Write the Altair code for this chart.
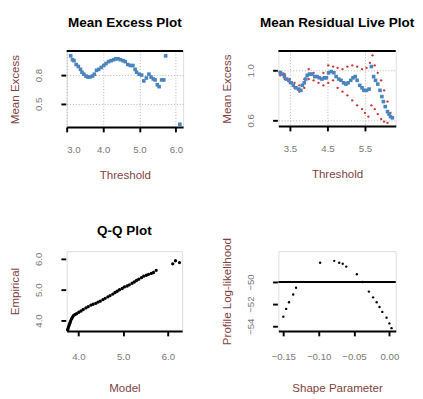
import altair as alt
import pandas as pd

FONT = "Liberation Sans"

# ---- Panel 1: Mean Excess Plot ----
me_thr = [3.11, 3.16, 3.20, 3.26, 3.32, 3.38, 3.42, 3.47, 3.53, 3.58,
          3.64, 3.71, 3.76, 3.82, 3.88, 3.95, 4.02, 4.08, 4.15, 4.22,
          4.29, 4.35, 4.41, 4.48, 4.55, 4.61, 4.68, 4.75, 4.82, 4.88,
          4.92, 4.99, 5.06, 5.12, 5.19, 5.26, 5.32, 5.38, 5.43, 5.49,
          5.54, 5.61, 5.67, 5.72, 6.11]
me_val = [1.00, 0.96, 0.95, 0.91, 0.89, 0.86, 0.83, 0.81, 0.79, 0.78,
          0.78, 0.79, 0.81, 0.85, 0.86, 0.88, 0.90, 0.92, 0.94, 0.95,
          0.96, 0.97, 0.97, 0.96, 0.95, 0.94, 0.91, 0.90, 0.90, 0.86,
          0.83, 0.81, 0.80, 0.74, 0.77, 0.81, 0.78, 0.76, 0.75, 0.70,
          0.68, 0.75, 0.75, 1.00, 0.29]
me_xticks = [3.0, 4.0, 5.0, 6.0]
me_yticks = [0.5, 0.6, 0.7, 0.8]
me_xdom = [3.0, 6.2]
me_ydom = [0.26, 1.05]

# ---- Panel 2: Mean Residual Live Plot ----
mrl_thr = [3.24, 3.30, 3.35, 3.41, 3.47, 3.53, 3.59, 3.66, 3.73, 3.79,
           3.83, 3.88, 3.92, 3.96, 4.02, 4.09, 4.16, 4.22, 4.28, 4.35,
           4.42, 4.47, 4.53, 4.60, 4.67, 4.73, 4.80, 4.86, 4.93, 4.99,
           5.05, 5.12, 5.18, 5.24, 5.29, 5.36, 5.42, 5.47, 5.54, 5.61,
           5.67, 5.73, 5.78, 5.84, 5.90, 5.95, 5.99, 6.04, 6.10, 6.14,
           6.18, 6.23]
mrl_val = [0.98, 0.97, 0.95, 0.93, 0.92, 0.90, 0.88, 0.86, 0.85, 0.84,
           0.88, 0.90, 0.93, 0.96, 0.97, 0.97, 0.95, 0.95, 0.94, 0.93,
           0.94, 0.94, 0.98, 0.99, 0.98, 0.95, 0.93, 0.92, 0.90, 0.89,
           0.90, 0.92, 0.94, 0.95, 0.92, 0.88, 0.86, 0.84, 0.84, 0.85,
           1.03, 0.95, 0.92, 0.89, 0.84, 0.79, 0.75, 0.71, 0.67, 0.65,
           0.63, 0.62]
mrl_up_thr = [3.24, 3.36, 3.49, 3.62, 3.75, 3.88, 4.00, 4.13, 4.26, 4.39,
              4.52, 4.65, 4.77, 4.90, 5.03, 5.16, 5.29, 5.42, 5.54, 5.63,
              5.70, 5.76, 5.84, 5.93, 6.01, 6.10, 6.18]
mrl_upper = [0.99, 0.97, 0.93, 0.90, 0.88, 0.93, 1.01, 0.98, 0.95, 0.98,
             1.04, 1.03, 1.02, 1.01, 1.03, 1.04, 1.03, 1.01, 1.02, 1.06,
             1.12, 1.04, 0.98, 0.92, 0.84, 0.75, 0.66]
mrl_lo_thr = [3.24, 3.36, 3.49, 3.62, 3.75, 3.88, 4.00, 4.13, 4.26, 4.39,
              4.52, 4.65, 4.77, 4.90, 5.03, 5.16, 5.29, 5.42, 5.50, 5.59,
              5.67, 5.76, 5.84, 5.93, 6.01, 6.10]
mrl_lower = [0.96, 0.93, 0.90, 0.86, 0.83, 0.86, 0.93, 0.92, 0.90, 0.88,
             0.90, 0.92, 0.86, 0.83, 0.80, 0.76, 0.72, 0.69, 0.66, 0.63,
             0.72, 0.69, 0.65, 0.61, 0.59, 0.58]
mrl_xticks = [3.5, 4.5, 5.5]
mrl_yticks = [0.6, 0.8, 1.0]
mrl_xdom = [3.19, 6.32]
mrl_ydom = [0.554, 1.154]

# ---- Panel 3: Q-Q Plot ----
qq_model = [3.76, 3.77, 3.78, 3.79, 3.80, 3.81, 3.82, 3.83, 3.85, 3.87,
            3.89, 3.92, 3.96, 4.01, 4.06, 4.11, 4.17, 4.22, 4.28, 4.33,
            4.39, 4.44, 4.49, 4.55, 4.60, 4.66, 4.71, 4.77, 4.82, 4.87,
            4.92, 4.98, 5.03, 5.09, 5.14, 5.20, 5.25, 5.30, 5.35, 5.41,
            5.46, 5.52, 5.57, 5.63, 5.68, 5.74, 6.11, 6.17, 6.26]
qq_emp = [3.70, 3.74, 3.79, 3.83, 3.88, 3.91, 3.95, 4.00, 4.06, 4.11,
          4.16, 4.19, 4.22, 4.27, 4.31, 4.36, 4.41, 4.45, 4.50, 4.53,
          4.56, 4.60, 4.63, 4.68, 4.72, 4.77, 4.81, 4.86, 4.91, 4.95,
          5.00, 5.04, 5.09, 5.12, 5.16, 5.21, 5.25, 5.30, 5.34, 5.39,
          5.44, 5.47, 5.50, 5.53, 5.56, 5.63, 5.84, 5.94, 5.88]
qq_xticks = [4.0, 5.0, 6.0]
qq_yticks = [4.0, 5.0, 6.0]
qq_xdom = [3.74, 6.32]
qq_ydom = [3.66, 6.25]

# ---- Panel 4: profile likelihood ----
shape = [-0.150, -0.146, -0.142, -0.136, -0.132, -0.098, -0.078, -0.071, -0.066, -0.061,
         -0.046, -0.038, -0.029, -0.023, -0.018, -0.014, -0.010, -0.004, 0.000, 0.003]
profile_ll = [-53.13, -52.43, -51.83, -51.13, -50.52, -48.26, -48.09, -48.26, -48.35, -48.61,
              -49.30, -50.00, -50.87, -51.39, -51.83, -52.26, -52.70, -53.22, -53.74, -54.17]
ci_level = -50.0
pl_xticks = [-0.15, -0.10, -0.05, 0.00]
pl_yticks = [-54, -52, -50]
pl_xdom = [-0.157, 0.009]
pl_ydom = [-54.43, -47.22]

LABEL_C = "#777777"
TITLE_C = "#7f3f3f"


def xaxis(values, fmt, title, grid=False, lp=13, tp=16):
    return alt.Axis(values=values, format=fmt, title=title, grid=grid,
                    gridDash=[1, 2], gridColor="#b0b0b0", gridWidth=1,
                    domainColor="black", domainWidth=2,
                    tickColor="black", tickWidth=2, tickSize=5,
                    labelPadding=lp, titlePadding=tp,
                    labelColor=LABEL_C, titleColor=TITLE_C,
                    labelFont=FONT, titleFont=FONT,
                    labelFontSize=10, titleFontSize=12,
                    titleFontWeight="normal")


def yaxis(values, fmt, title, grid=False):
    return alt.Axis(values=values, format=fmt, title=title, grid=grid,
                    gridDash=[1, 2], gridColor="#b0b0b0", gridWidth=1,
                    domain=False, offset=1,
                    tickColor="black", tickWidth=2, tickSize=5,
                    labelAngle=270, labelPadding=18, titlePadding=13,
                    labelColor=LABEL_C, titleColor=TITLE_C,
                    labelFont=FONT, titleFont=FONT,
                    labelFontSize=10, titleFontSize=12,
                    titleFontWeight="normal")


def ttl(text, off):
    return alt.TitleParams(text=text, font=FONT, fontSize=14, fontWeight="bold",
                           color="black", anchor="middle", offset=off)


def hline(value, width):
    one = pd.DataFrame({"k": [0]})
    return alt.Chart(one).mark_rule(color="black", strokeWidth=2).encode(
        y=alt.datum(value), x=alt.value(0), x2=alt.value(width))


# Panel 1
df1 = pd.DataFrame({"thr": me_thr, "me": me_val})
x1 = alt.X("thr:Q", scale=alt.Scale(domain=me_xdom, nice=False, zero=False),
           axis=xaxis(me_xticks, ".1f", "Threshold", grid=True))
y1 = alt.Y("me:Q", scale=alt.Scale(domain=me_ydom, nice=False, zero=False),
           axis=yaxis(me_yticks, ".1f", "Mean Excess", grid=True))
p1_pts = alt.Chart(df1).mark_square(size=14, color="#4a84bd", opacity=1).encode(x=x1, y=y1)
p1 = alt.layer(p1_pts, hline(me_ydom[1], 121)).properties(
    width=121, height=79, title=ttl("Mean Excess Plot", 21))

# Panel 2
df2 = pd.DataFrame({"thr": mrl_thr, "me": mrl_val})
df2u = pd.DataFrame({"thr": mrl_up_thr, "me": mrl_upper})
df2l = pd.DataFrame({"thr": mrl_lo_thr, "me": mrl_lower})
x2 = alt.X("thr:Q", scale=alt.Scale(domain=mrl_xdom, nice=False, zero=False),
           axis=xaxis(mrl_xticks, ".1f", "Threshold", grid=True))
y2 = alt.Y("me:Q", scale=alt.Scale(domain=mrl_ydom, nice=False, zero=False),
           axis=yaxis(mrl_yticks, ".1f", "Mean Excess", grid=True))
p2_u = alt.Chart(df2u).mark_circle(size=6, color="#c83a3a", opacity=1).encode(x=x2, y=y2)
p2_l = alt.Chart(df2l).mark_circle(size=6, color="#c83a3a", opacity=1).encode(x=x2, y=y2)
p2_pts = alt.Chart(df2).mark_square(size=14, color="#4a84bd", opacity=1).encode(x=x2, y=y2)
p2 = alt.layer(p2_u, p2_l, p2_pts, hline(mrl_ydom[1], 122)).properties(
    width=122, height=78, title=ttl("Mean Residual Live Plot", 21))

# Panel 3
df3 = pd.DataFrame({"model": qq_model, "emp": qq_emp})
p3 = alt.Chart(df3).mark_circle(size=12, color="black", opacity=1).encode(
    x=alt.X("model:Q", scale=alt.Scale(domain=qq_xdom, nice=False, zero=False),
            axis=xaxis(qq_xticks, ".1f", "Model", lp=17, tp=22)),
    y=alt.Y("emp:Q", scale=alt.Scale(domain=qq_ydom, nice=False, zero=False),
            axis=yaxis(qq_yticks, ".1f", "Empirical")),
).properties(width=120, height=83, title=ttl("Q-Q Plot", 14))

# Panel 4
df4 = pd.DataFrame({"shape": shape, "ll": profile_ll})
x4 = alt.X("shape:Q", scale=alt.Scale(domain=pl_xdom, nice=False, zero=False),
           axis=xaxis(pl_xticks, ".2f", "Shape Parameter", lp=17, tp=22))
y4 = alt.Y("ll:Q", scale=alt.Scale(domain=pl_ydom, nice=False, zero=False),
           axis=yaxis(pl_yticks, "d", "Profile Log-likelihood"))
p4_pts = alt.Chart(df4).mark_circle(size=6, color="black", opacity=1).encode(x=x4, y=y4)
p4 = alt.layer(p4_pts, hline(ci_level, 122)).properties(width=122, height=83)

chart = alt.concat(p1, p2, p3, p4, columns=2,
                   spacing={"row": 44, "column": 36}).properties(
    padding={"left": 0, "top": 0, "right": 0, "bottom": 0}
).configure_view(stroke=None).configure(background="white")

chart.save("out.html", embed_options={"renderer": "svg", "actions": False})
